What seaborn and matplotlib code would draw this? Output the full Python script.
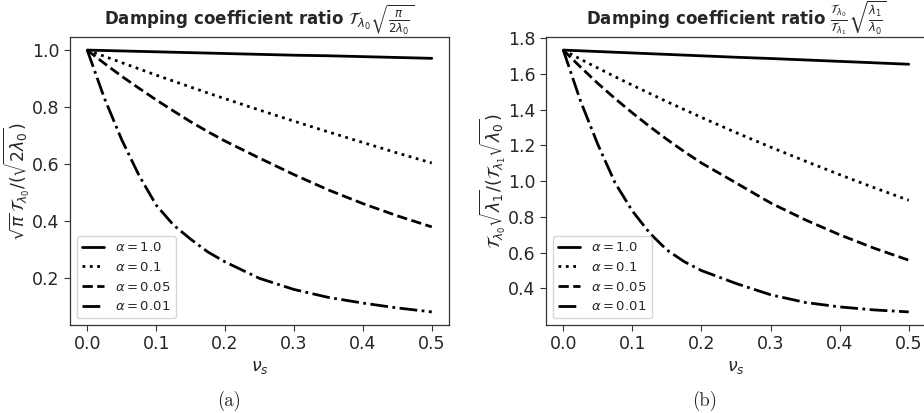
import matplotlib
matplotlib.use("Agg")
import matplotlib.pyplot as plt
import seaborn as sns
import pandas as pd

nu_s = [0.0, 0.025, 0.05, 0.075, 0.1, 0.125, 0.15, 0.175, 0.2, 0.25, 0.3, 0.35, 0.4, 0.45, 0.5]
alpha_labels = [r"$\alpha = 1.0$", r"$\alpha = 0.1$", r"$\alpha = 0.05$", r"$\alpha = 0.01$"]

# Panel (a)
a_alpha_1 = [1.000, 0.9985, 0.997, 0.9955, 0.994, 0.9925, 0.991, 0.9895, 0.988, 0.985, 0.982, 0.980, 0.977, 0.974, 0.971]
a_alpha_01 = [1.000, 0.978, 0.956, 0.934, 0.912, 0.891, 0.870, 0.849, 0.829, 0.789, 0.750, 0.712, 0.675, 0.638, 0.603]
a_alpha_005 = [1.000, 0.953, 0.908, 0.866, 0.825, 0.786, 0.748, 0.713, 0.680, 0.620, 0.562, 0.508, 0.460, 0.417, 0.378]
a_alpha_001 = [1.000, 0.830, 0.685, 0.560, 0.455, 0.385, 0.335, 0.290, 0.255, 0.197, 0.158, 0.130, 0.110, 0.093, 0.079]

# Panel (b)
b_alpha_1 = [1.732, 1.728, 1.724, 1.720, 1.716, 1.712, 1.708, 1.704, 1.700, 1.692, 1.685, 1.677, 1.669, 1.661, 1.653]
b_alpha_01 = [1.732, 1.681, 1.632, 1.583, 1.536, 1.490, 1.444, 1.400, 1.356, 1.271, 1.190, 1.112, 1.036, 0.963, 0.893]
b_alpha_005 = [1.732, 1.637, 1.546, 1.461, 1.381, 1.305, 1.233, 1.165, 1.101, 0.990, 0.878, 0.784, 0.700, 0.625, 0.558]
b_alpha_001 = [1.732, 1.447, 1.205, 0.990, 0.833, 0.710, 0.615, 0.550, 0.500, 0.428, 0.365, 0.322, 0.297, 0.280, 0.269]

styles = ["-", ":", "--", "-."]

sns.set_style("ticks")
plt.rcParams["axes.edgecolor"] = "0.2"
plt.rcParams["mathtext.fontset"] = "dejavusans"

fig = plt.figure(figsize=(9.24, 4.13), dpi=100)
ax1 = fig.add_axes([70 / 924, 1 - 325 / 413, 379 / 924, 288 / 413])
ax2 = fig.add_axes([546 / 924, 1 - 325 / 413, 380 / 924, 288 / 413])

panels = [
    (ax1, [a_alpha_1, a_alpha_01, a_alpha_005, a_alpha_001],
     r"Damping coefficient ratio $\mathcal{T}_{\lambda_0}\sqrt{\frac{\pi}{2\lambda_0}}$",
     r"$\sqrt{\pi}\,\mathcal{T}_{\lambda_0}/(\sqrt{2\lambda_0})$",
     [0.2, 0.4, 0.6, 0.8, 1.0]),
    (ax2, [b_alpha_1, b_alpha_01, b_alpha_005, b_alpha_001],
     r"Damping coefficient ratio $\frac{\mathcal{T}_{\lambda_0}}{\mathcal{T}_{\lambda_1}}\sqrt{\frac{\lambda_1}{\lambda_0}}$",
     r"$\mathcal{T}_{\lambda_0}\sqrt{\lambda_1}/(\mathcal{T}_{\lambda_1}\sqrt{\lambda_0})$",
     [0.4, 0.6, 0.8, 1.0, 1.2, 1.4, 1.6, 1.8]),
]

for ax, series, title, ylabel, yticks in panels:
    for vals, lab, ls in zip(series, alpha_labels, styles):
        df = pd.DataFrame({"nu": nu_s, "val": vals})
        sns.lineplot(data=df, x="nu", y="val", ax=ax, color="black",
                     linestyle=ls, linewidth=2, label=lab)
    ax.set_xticks([0.0, 0.1, 0.2, 0.3, 0.4, 0.5])
    ax.set_yticks(yticks)
    ax.tick_params(labelsize=12.5, length=4, width=0.8, color="0.2")
    ax.set_xlabel(r"$\nu_s$", fontsize=12.5, labelpad=3)
    ax.set_ylabel(ylabel, fontsize=12.5, labelpad=0)
    ax.set_title(title, fontsize=12, fontweight="bold", pad=3)
    ax.legend(loc="lower left", fontsize=9.5, frameon=True, handlelength=1.7)
    for s in ax.spines.values():
        s.set_linewidth(0.9)

fig.text(229 / 924, 1 - 401 / 413, "(a)", ha="center", va="center", fontsize=13.5, family="cmr10")
fig.text(705 / 924, 1 - 401 / 413, "(b)", ha="center", va="center", fontsize=13.5, family="cmr10")

fig.savefig("out.png", dpi=100)
